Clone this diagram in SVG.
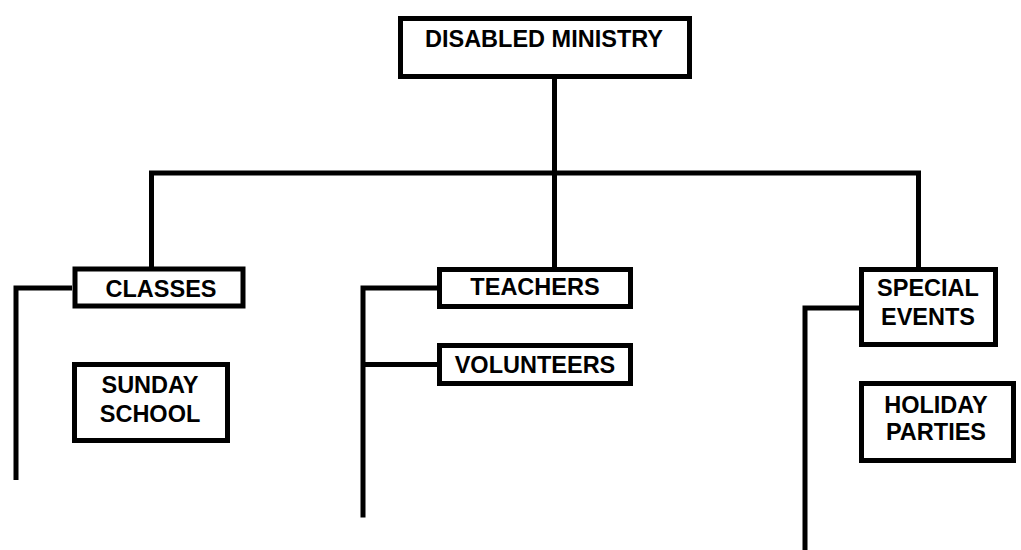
<svg xmlns="http://www.w3.org/2000/svg" width="1021" height="550" viewBox="0 0 1021 550">
  <style>
    .box { fill: #ffffff; stroke: #000000; stroke-width: 5; }
    .wire { fill: none; stroke: #000000; stroke-width: 5; stroke-linejoin: miter; stroke-linecap: butt; }
    .label { font-family: "Liberation Sans", Arial, sans-serif; font-weight: bold; font-size: 23.5px; fill: #000000; text-anchor: middle; }
  </style>
  <rect x="0" y="0" width="1021" height="550" fill="#ffffff"/>

  <!-- connecting lines -->
  <g id="connectors">
    <path class="wire" d="M554.5,79 V267"/>
    <path class="wire" d="M151.5,267 V173 H918.5 V267"/>
    <path class="wire" d="M72,288 H16 V480"/>
    <path class="wire" d="M437,288 H363 V517.5"/>
    <path class="wire" d="M363,364.5 H437"/>
    <path class="wire" d="M859,308 H805 V550"/>
  </g>

  <g id="disabled-ministry">
    <rect class="box" x="400.5" y="18.5" width="289" height="58"/>
    <text class="label" x="544" y="47">DISABLED MINISTRY</text>
  </g>

  <g id="classes">
    <rect class="box" x="75" y="269" width="168" height="37"/>
    <text class="label" x="161" y="296.5">CLASSES</text>
  </g>

  <g id="sunday-school">
    <rect class="box" x="74.5" y="364.5" width="153" height="76"/>
    <text class="label" x="150" y="393">SUNDAY</text>
    <text class="label" x="150" y="421.5">SCHOOL</text>
  </g>

  <g id="teachers">
    <rect class="box" x="439.5" y="269.5" width="191" height="37"/>
    <text class="label" x="535" y="295">TEACHERS</text>
  </g>

  <g id="volunteers">
    <rect class="box" x="439.5" y="345.5" width="191" height="38"/>
    <text class="label" x="535" y="373">VOLUNTEERS</text>
  </g>

  <g id="special-events">
    <rect class="box" x="861.5" y="269.5" width="134" height="75"/>
    <text class="label" x="928" y="296">SPECIAL</text>
    <text class="label" x="928" y="325">EVENTS</text>
  </g>

  <g id="holiday-parties">
    <rect class="box" x="861.5" y="383.5" width="152" height="77"/>
    <text class="label" x="936" y="412.5">HOLIDAY</text>
    <text class="label" x="936" y="440">PARTIES</text>
  </g>
</svg>
